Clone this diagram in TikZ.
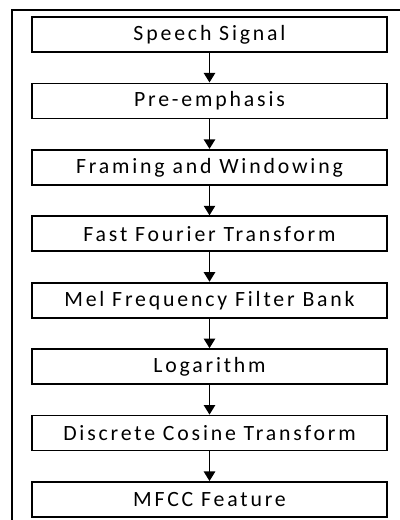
\documentclass[tikz,border=0pt]{standalone}
\usepackage{fontspec}
\setmainfont{Carlito}
\newfontfamily\stagefont[LetterSpace=13]{Carlito}
\usetikzlibrary{positioning,arrows.meta}
\tikzset{
  stage/.style = {rectangle, draw, line width=1.3pt,
                  minimum width = 8.875cm, minimum height = 0.875cm,
                  inner sep = 0pt, font = \stagefont\fontsize{15.5}{17}\selectfont},
  arr/.style   = {-{Triangle[length=2.4mm,width=2.8mm]}, line width=1.4pt}
}
\begin{document}
\begin{tikzpicture}[node distance=0.74cm]
  \useasboundingbox (0,0) rectangle (10,-13);
  % outer frame (only top and left edges show)
  \draw[line width=0.9pt] (10,-0.25) -- (0.3,-0.25) -- (0.3,-13);

  \node[stage] (sig) at (5.2375,-0.8625) {Speech Signal};
  \node[stage, below=of sig] (pre) {Pre-emphasis};
  \node[stage, below=of pre] (frm) {Framing and Windowing};
  \node[stage, below=of frm] (fft) {Fast Fourier Transform};
  \node[stage, below=of fft] (mel) {Mel Frequency Filter Bank};
  \node[stage, below=of mel] (log) {Logarithm};
  \node[stage, below=of log] (dct) {Discrete Cosine Transform};
  \node[stage, below=of dct] (mfcc) {MFCC Feature};

  \foreach \a/\b in {sig/pre, pre/frm, frm/fft, fft/mel,
                     mel/log, log/dct, dct/mfcc}
    \draw[arr] (\a) -- (\b);
\end{tikzpicture}
\end{document}
